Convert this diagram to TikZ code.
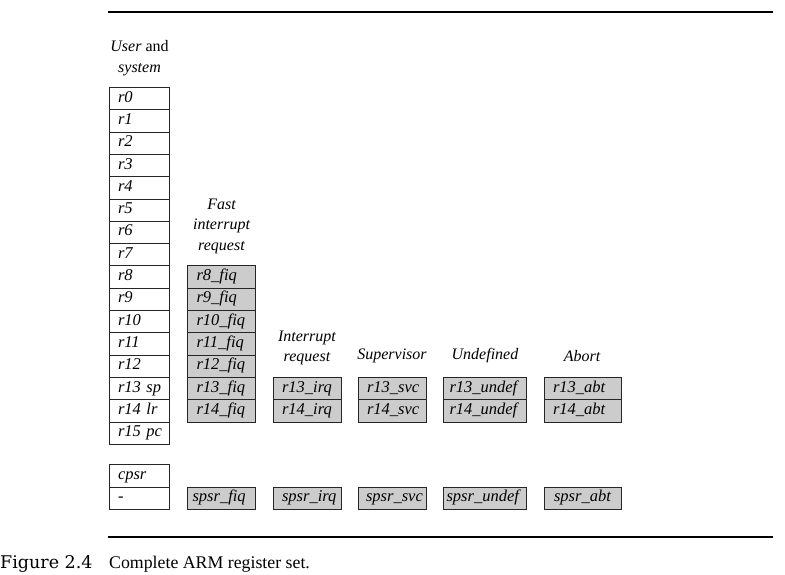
\documentclass[tikz,border=0pt]{standalone}
\usepackage{fontspec}
\setmainfont{Liberation Serif}
\newfontfamily\figfont{DejaVu Serif}
\usetikzlibrary{positioning}

\tikzset{
  regbox/.style={draw=black!85, line width=0.9pt, minimum height=22.3pt,
    inner ysep=0pt, inner xsep=3pt, text width=#1, align=left,
    text height=11pt, text depth=4pt,
    execute at begin node={\hspace*{5.5pt}},
    font=\fontsize{16.5}{18}\selectfont\itshape},
  bankbox/.style 2 args={draw=black!85, line width=0.9pt, minimum height=22.3pt,
    inner ysep=0pt, inner xsep=1pt, text width=#1, align=left,
    text height=11pt, text depth=4pt, fill=black!20,
    execute at begin node={\hspace*{#2}},
    font=\fontsize{16.5}{18}\selectfont\itshape},
  modelabel/.style={align=center, font=\fontsize{16}{20.5}\selectfont\itshape},
  rule/.style={line width=1.1pt, black}
}

\begin{document}
\begin{tikzpicture}[x=1pt,y=-1pt]
\useasboundingbox (0,0) rectangle (785,575);

% rules above and below
\coordinate (topl) at (108,12);
\coordinate (topr) at (773,12);
\coordinate (botl) at (108,537);
\coordinate (botr) at (773,537);
\draw[rule] (topl) -- (topr);
\draw[rule] (botl) -- (botr);

% mode headings
\node[modelabel] (huser) at (139.5,58) {\textit{User} \textup{and}\\system};
\node[modelabel] (hfiq) at (221.5,226) {Fast\\interrupt\\request};
\node[modelabel] (hirq) at (307,348) {Interrupt\\request};
\node[modelabel] (hsvc) at (392,356) {Supervisor};
\node[modelabel] (hundef) at (485,356) {Undefined};
\node[modelabel] (habt) at (582,356) {Abort};

% user and system registers
\foreach \n [count=\i from 0] in {r0,r1,r2,r3,r4,r5,r6,r7,r8,r9,r10,r11,r12,r13 sp,r14 lr,r15 pc}
{
	\node[regbox=54pt] (u\i) at (139.5,{87.5+22.3*(\i+0.5)}) {\n};
}

% fiq bank
\foreach \k in {8,...,14}
{
	\node[bankbox={66pt}{8pt}] (fiq\k) at (221.5,{87.5+22.3*(\k+0.5)}) {r\k\_fiq};
}

% other banks
\foreach \m/\x/\w/\ind in {irq/307/66pt/8pt,svc/392/66pt/8pt,undef/485/81pt/5pt,abt/582.5/75pt/8pt}
{
	\foreach \k in {13,14}
	{
		\node[bankbox={\w}{\ind}] (\m\k) at (\x,{87.5+22.3*(\k+0.5)}) {r\k\_\m};
	}
}

% status registers
\node[regbox=54pt] (cpsr) at (139.5,476) {cpsr};
\node[regbox=54pt] (nospsr) at (139.5,498.4) {-};
\foreach \m/\x/\w/\ind in {fiq/221.5/66pt/4pt,irq/307/66pt/8pt,svc/392/66pt/7pt,undef/485/81pt/2pt,abt/582.5/75pt/9pt}
{
	\node[bankbox={\w}{\ind}] (spsr\m) at (\x,498.4) {spsr\_\m};
}

% caption
\node[anchor=west, inner sep=0pt, font=\figfont\fontsize{17.5}{19}\selectfont] (fignum) at (0,564) {Figure 2.4};
\node[anchor=west, inner sep=0pt, font=\fontsize{17.8}{20}\selectfont] (figcap) at (109,564) {Complete ARM register set.};
\end{tikzpicture}
\end{document}
